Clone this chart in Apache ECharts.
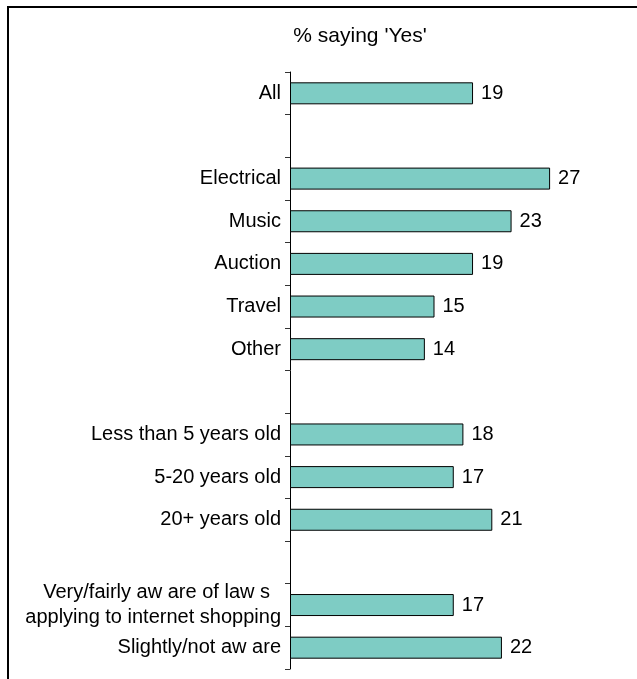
<!DOCTYPE html>
<html>
<head>
<meta charset="utf-8">
<script src="https://cdn.jsdelivr.net/npm/echarts@6/dist/echarts.min.js"></script>
<style>
html,body{margin:0;padding:0;background:#fff;}
#chart{width:637px;height:679px;}
</style>
</head>
<body>
<div id="chart"></div>
<script>
const titleText = "% saying 'Yes'";
const categories = [
  "All", " ", "Electrical", "Music", "Auction", "Travel", "Other", "  ",
  "Less than 5 years old", "5-20 years old", "20+ years old", "   ",
  "Very/fairly aw are of law s\napplying to internet shopping", "Slightly/not aw are"
];
const values = [19, null, 27, 23, 19, 15, 14, null, 18, 17, 21, null, 17, 22];

const chart = echarts.init(document.getElementById('chart'), null, {renderer: 'canvas'});
const font = 'Liberation Sans, Arial, sans-serif';
chart.setOption({
  animation: false,
  backgroundColor: '#fff',
  title: {
    text: titleText,
    left: 355, top: 21, textAlign: 'center',
    textStyle: {fontFamily: font, fontSize: 21, fontWeight: 'normal', color: '#000'}
  },
  graphic: [{
    type: 'rect', silent: true,
    shape: {x: 8, y: 7, width: 700, height: 700},
    style: {fill: 'none', stroke: '#000', lineWidth: 2}
  }],
  grid: {left: 290, top: 72, width: 289, bottom: 10},
  xAxis: {type: 'value', min: 0, max: 30, show: false},
  yAxis: {
    type: 'category', inverse: true, data: categories,
    axisLine: {show: true, lineStyle: {color: '#000', width: 1}},
    axisTick: {show: true, length: 5, lineStyle: {color: '#333'}},
    axisLabel: {
      margin: 9, fontFamily: font, fontSize: 20, color: '#000',
      formatter: function (v) {
        if (v.indexOf('\n') >= 0) {
          const p = v.split('\n');
          return '{a|' + p[0] + '}\n{b|' + p[1] + '}';
        }
        return v;
      },
      rich: {
        a: {fontFamily: font, fontSize: 20, color: '#000', lineHeight: 25, padding: [0, 11, 0, 0]},
        b: {fontFamily: font, fontSize: 20, color: '#000', lineHeight: 25}
      }
    }
  },
  series: [{
    type: 'bar', data: values, barWidth: 22,
    itemStyle: {color: '#7ECCC4', borderColor: '#000', borderWidth: 1},
    label: {show: true, position: 'right', distance: 8, fontFamily: font, fontSize: 20, color: '#000'}
  }]
});
</script>
</body>
</html>
